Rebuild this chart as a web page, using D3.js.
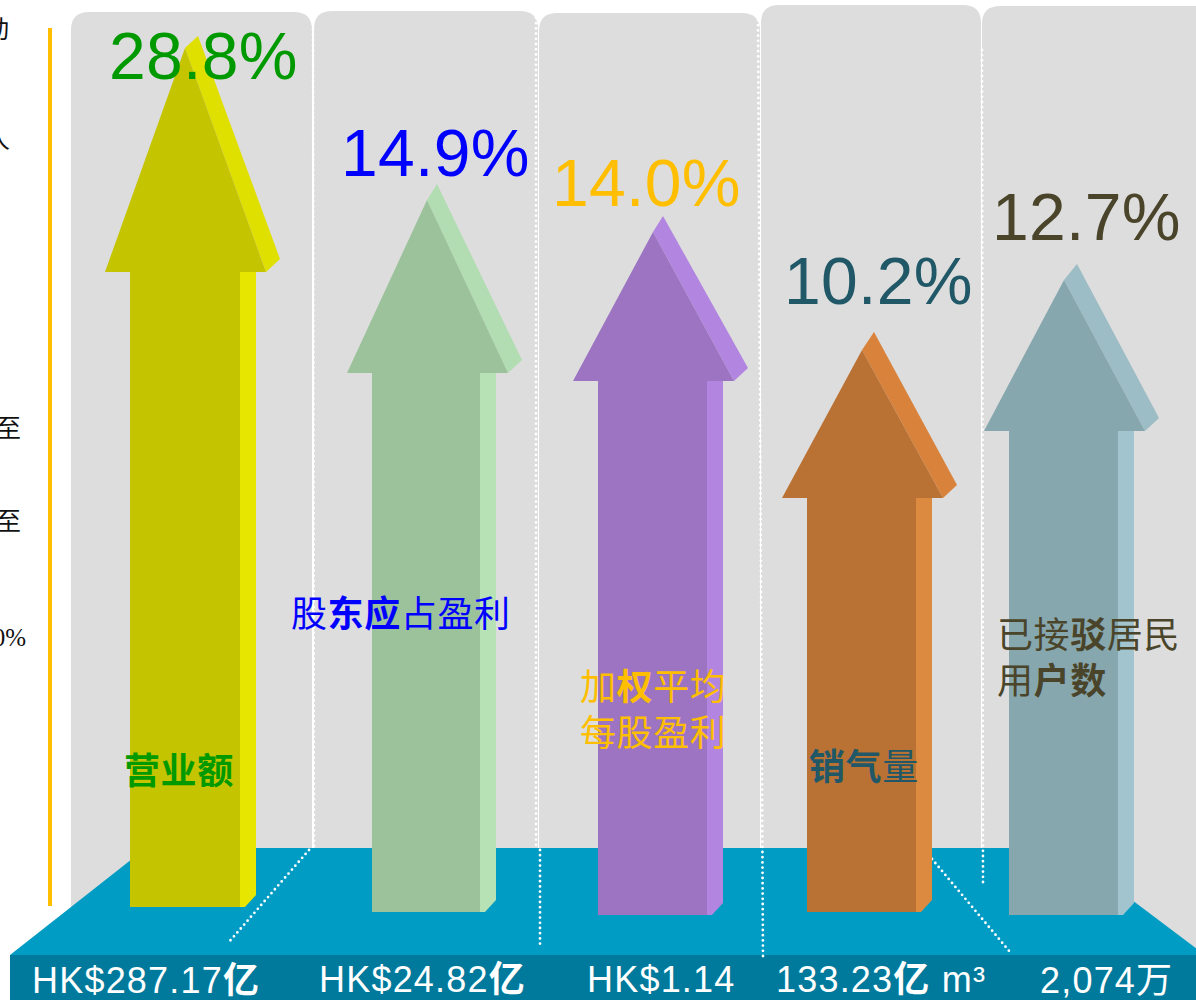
<!DOCTYPE html>
<html><head><meta charset="utf-8">
<script src="https://cdnjs.cloudflare.com/ajax/libs/d3/7.8.5/d3.min.js"></script>
<style>html,body{margin:0;padding:0;background:#fff;overflow:hidden}svg{display:block}</style>
</head><body><div id="chart"></div>
<script>
// ---- data ----
const categories = ["营业额","股东应占盈利","加权平均每股盈利","销气量","已接驳居民用户数"];
const growth = [28.8,14.9,14.0,10.2,12.7];
const growthLabels = ["28.8%","14.9%","14.0%","10.2%","12.7%"];
// name label lines; ** marks the bold run
const nameLines = [["**营业额**"],["股**东应**占盈利"],["加**权**平均","每股盈利"],["**销气**量"],["已接**驳**居民","用**户数**"]];
const amountLabels = ["HK$287.17**亿**","HK$24.82**亿**","HK$1.14","133.23**亿** m³","2,074万"];
const clippedNotes = ["动","人","、","至","至","0%"];

// ---- style and layout ----
const W=1196,H=1000;
const textColors=["#009a00","#0000ff","#ffbf00","#215868","#4a452a"];
const frontColors=["#c4c400","#9cc29c","#9c74c2","#ba7234","#87a7ae"];
const headSideColors=["#dfdf00","#b2dcb2","#b285e0","#d9823c","#9cbcc6"];
const shaftSideColors=["#e6e600","#b6e2b6","#b285e0","#dc8a40","#a2c4ce"];
const shaftLeft=[130,372,598,807,1009];
const shaftWidth=[110,108,109,109,109];
const arrowBase=[907,912,915,912,915];
const headDepth=[224,173,149,148,151];
const tipRise=[12,16,16,18,16];
const tipRun=[13,10,10,12,13];
const panelX=[[71,312,12],[314,538,11],[539,760,13],[761,981,5],[982,1220,6]];
const valueX=[109,341,552,784,992], valueY=[79,176,206,304,240];
const nameX=[124,291,580,809,997], nameY=[[784],[627],[700,746],[780],[648,694]];
const amountX=[32,319,587,776,1040], amountY=[993,992,992,992,993];
const noteY=[38,148,258,437,530,646], noteX=[9,10,2,21,21,26];

const svg=d3.select("#chart").append("svg").attr("width",W).attr("height",H).attr("viewBox",[0,0,W,H]);
const line=d3.line();
const x=d3.scaleOrdinal().domain(categories).range(shaftLeft);
// The picture's arrows are not strictly proportional, so the height scale is piecewise.
const tipY=d3.scaleLinear().domain([10.2,12.7,14.0,14.9,28.8]).range([350,280,232,200,48]);

// panels
const panelPath=([a,b,t])=>{const r=18,bot=960;return `M${a},${bot}V${t+r}Q${a},${t} ${a+r},${t}H${b-r}Q${b},${t} ${b},${t+r}V${bot}Z`;};
svg.append("g").selectAll("path").data(panelX).join("path").attr("d",panelPath).attr("fill","#dddddd");

// axis bar
svg.append("line").attr("x1",50).attr("x2",50).attr("y1",28).attr("y2",906).attr("stroke","#ffbf00").attr("stroke-width",4);

// floor
svg.append("path").attr("d",line([[146,848],[1063,848],[1205,955],[10,955]])).attr("fill","#009cc4");
svg.append("rect").attr("x",10).attr("y",955).attr("width",W-10).attr("height",45).attr("fill","#007a9c");

// dotted separators
const dots=[[[313,14],[314,846]],[[309,850],[229,942]],[[536,18],[536,846]],[[540,850],[540,945]],
 [[758,20],[763,960]],[[982,50],[983,884]],[[932,859],[1010,952]]];
svg.append("g").selectAll("path").data(dots).join("path").attr("d",d=>line(d))
 .attr("fill","none").attr("stroke","#fff").attr("stroke-width",2.8).attr("stroke-linecap","round").attr("stroke-dasharray","0 5.2");

// arrows
const arrows=svg.append("g").selectAll("g").data(categories).join("g");
arrows.each(function(c,i){
  const g=d3.select(this), s=x(c), w=shaftWidth[i], tip=tipY(growth[i]), sh=tip+headDepth[i], base=arrowBase[i];
  const tx=s+55, top=[tx+tipRun[i],tip-tipRise[i]];
  g.append("path").attr("fill",shaftSideColors[i]).attr("d",line([[s+w,sh],[s+w+16,sh],[s+w+16,base-12],[s+w+5,base],[s+w,base]]));
  g.append("path").attr("fill",headSideColors[i]).attr("d",line([[tx,tip],top,[s+150,sh-13],[s+136,sh]]));
  g.append("path").attr("fill",frontColors[i]).attr("d",line([[s-25,sh],[tx,tip],[s+136,sh],[s+w,sh],[s+w,base],[s+w+5,base],[s,base],[s,sh]]));
});

// mixed-weight text helper
function runs(sel,str){
  str.split("**").forEach((t,k)=>{ if(t) sel.append("tspan").attr("font-weight",k%2?700:400).text(t); });
}

// growth labels
svg.append("g").selectAll("text").data(growthLabels).join("text")
 .attr("x",(d,i)=>valueX[i]).attr("y",(d,i)=>valueY[i]).attr("fill",(d,i)=>textColors[i])
 .attr("font-family","'Liberation Sans',sans-serif").attr("font-size",66).attr("letter-spacing",0.3).text(d=>d);

// name labels
nameLines.forEach((lines,i)=>lines.forEach((t,j)=>{
  const el=svg.append("text").attr("x",nameX[i]).attr("y",nameY[i][j]).attr("fill",textColors[i])
   .attr("font-family","'Noto Sans CJK SC',sans-serif").attr("font-size",36).attr("letter-spacing",0.6);
  runs(el,t);
}));

// amount labels
amountLabels.forEach((t,i)=>{
  const el=svg.append("text").attr("x",amountX[i]).attr("y",amountY[i]).attr("fill","#fff")
   .attr("font-family","'Liberation Sans','Noto Sans CJK SC',sans-serif").attr("font-size",36).attr("letter-spacing",1.2);
  runs(el,t);
});

// text cut off at the left edge, as in the reference
svg.append("g").selectAll("text").data(clippedNotes).join("text")
 .attr("x",(d,i)=>noteX[i]).attr("y",(d,i)=>noteY[i]).attr("text-anchor","end").attr("fill","#111")
 .attr("font-family","'Liberation Serif','Noto Sans CJK SC',serif").attr("font-size",25).text(d=>d);
</script></body></html>
